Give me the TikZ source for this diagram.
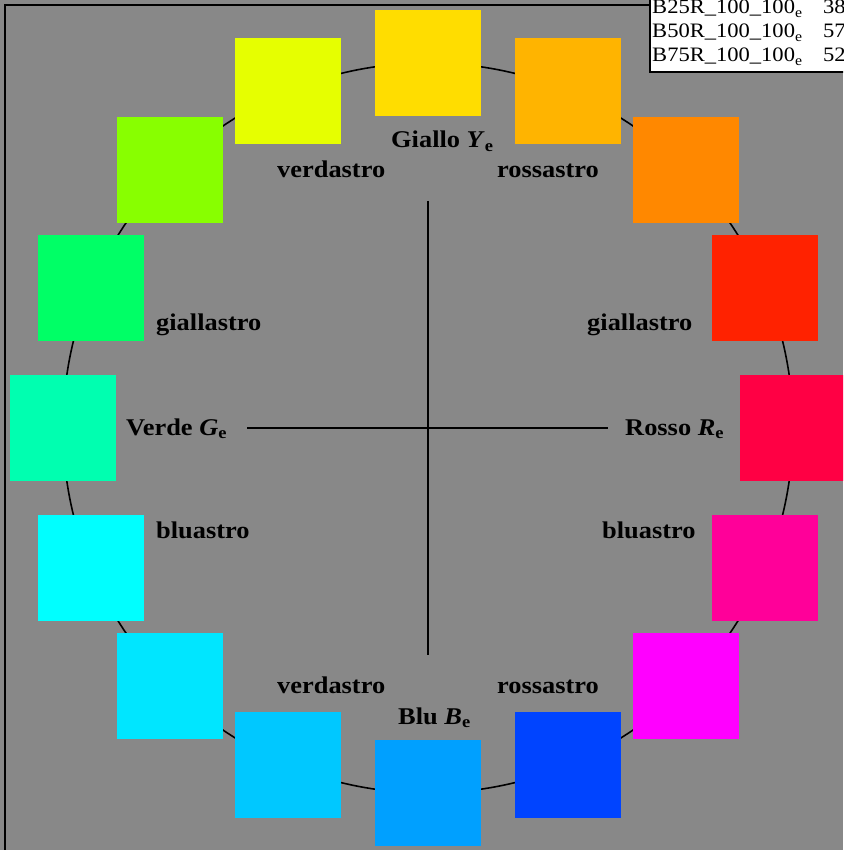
\documentclass[tikz,border=0pt]{standalone}
\usepackage{fontspec}
\setmainfont{Liberation Serif}
\definecolor{bg}{HTML}{888888}
\definecolor{c0}{HTML}{FFDD00}
\definecolor{c1}{HTML}{FFB400}
\definecolor{c2}{HTML}{FF8800}
\definecolor{c3}{HTML}{FF2200}
\definecolor{c4}{HTML}{FF0044}
\definecolor{c5}{HTML}{FF0099}
\definecolor{c6}{HTML}{FF00FF}
\definecolor{c7}{HTML}{0044FF}
\definecolor{c8}{HTML}{00A0FF}
\definecolor{c9}{HTML}{00C8FF}
\definecolor{c10}{HTML}{00E6FF}
\definecolor{c11}{HTML}{00FFFF}
\definecolor{c12}{HTML}{00FFB0}
\definecolor{c13}{HTML}{00FF66}
\definecolor{c14}{HTML}{88FF00}
\definecolor{c15}{HTML}{E6FF00}
\newcommand\xsc[1]{\scalebox{1.1}[1]{#1}}
\newcommand\tsc[1]{\scalebox{1.1}[1]{#1}}
\begin{document}
\begin{tikzpicture}[x=1pt,y=-1pt,
  sq/.style={minimum size=106pt, inner sep=0pt, draw=none},
  lbl/.style={anchor=base west, inner sep=0pt, font=\fontsize{24}{28}\selectfont\bfseries},
  tbl/.style={anchor=base west, inner sep=0pt, font=\fontsize{20.5}{24}\selectfont},
  axis/.style={line width=1.6pt}]
\useasboundingbox (0,0) rectangle (843,850);
\clip (0,0) rectangle (843,850);
\fill[bg] (0,0) rectangle (843,850);
\draw[line width=2pt] (5,5) rectangle (900,900);
\node[circle, draw, line width=1.6pt, minimum size=730pt, inner sep=0pt] (ring) at (428,428) {};
\foreach \i in {0,...,15}{
  \node[sq, fill=c\i] (s\i) at ({428+365*sin(22.5*\i)}, {428-365*cos(22.5*\i)}) {};
}
\coordinate (vt) at (428,201);
\coordinate (vb) at (428,655);
\coordinate (hl) at (247,428);
\coordinate (hr) at (608,428);
\draw[axis] (vt) -- (vb);
\draw[axis] (hl) -- (hr);
\node[lbl] (ly) at (391,148) {\xsc{Giallo \textit{Y}\textsubscript{e}}};
\node[lbl] (lv1) at (277,178) {\xsc{verdastro}};
\node[lbl] (lr1) at (497,178) {\xsc{rossastro}};
\node[lbl] (lg1) at (156,330) {\xsc{giallastro}};
\node[lbl] (lg2) at (587,330) {\xsc{giallastro}};
\node[lbl] (lgr) at (126,435) {\xsc{Verde \textit{G}\textsubscript{e}}};
\node[lbl] (lro) at (625,435) {\xsc{Rosso \textit{R}\textsubscript{e}}};
\node[lbl] (lb1) at (156,538) {\xsc{bluastro}};
\node[lbl] (lb2) at (602,538) {\xsc{bluastro}};
\node[lbl] (lv2) at (277,693) {\xsc{verdastro}};
\node[lbl] (lr2) at (497,693) {\xsc{rossastro}};
\node[lbl] (lbl) at (398,724) {\xsc{Blu \textit{B}\textsubscript{e}}};
\draw[fill=white, line width=1.5pt] (650,-10) rectangle (860,72);
\node[tbl] (t1) at (652,14) {\tsc{B25R\_100\_100\textsubscript{e}}};
\node[tbl] (t2) at (652,38) {\tsc{B50R\_100\_100\textsubscript{e}}};
\node[tbl] (t3) at (652,62) {\tsc{B75R\_100\_100\textsubscript{e}}};
\node[tbl] (n1) at (823,14) {\tsc{38}};
\node[tbl] (n2) at (823,38) {\tsc{57}};
\node[tbl] (n3) at (823,62) {\tsc{52}};
\end{tikzpicture}
\end{document}
